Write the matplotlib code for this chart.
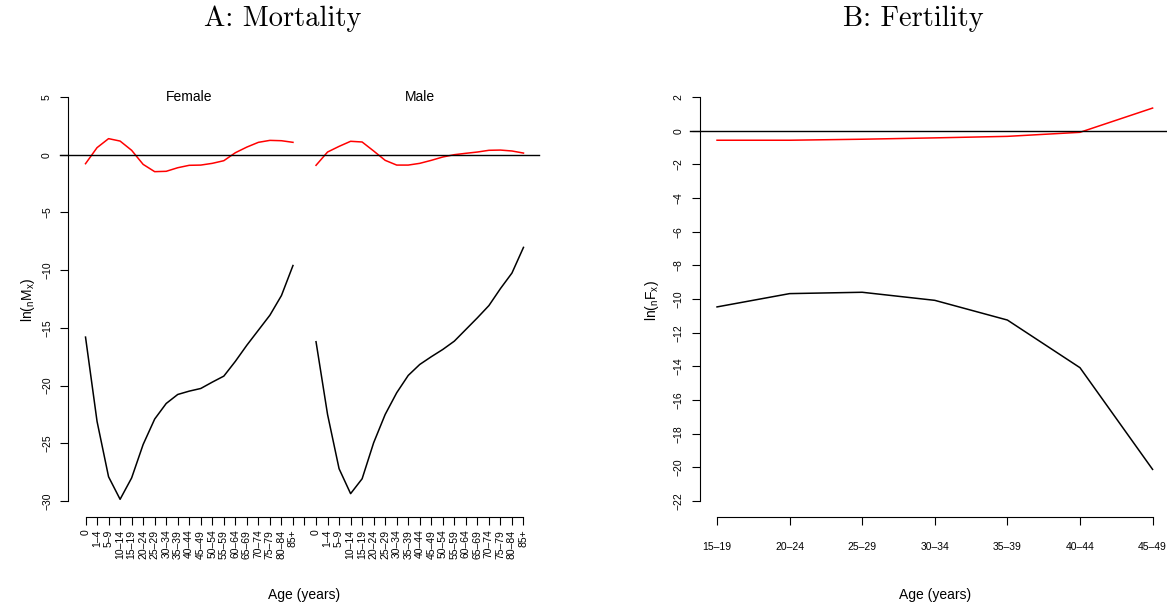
import matplotlib
matplotlib.use("Agg")
import matplotlib.pyplot as plt
import numpy as np

plt.rcParams['font.family'] = ['Liberation Sans', 'DejaVu Sans']
plt.rcParams['mathtext.fontset'] = 'custom'
plt.rcParams['mathtext.rm'] = 'Liberation Sans'
plt.rcParams['mathtext.it'] = 'Liberation Sans'

# ---- data ----
age_mort = ['0', '1–4', '5–9', '10–14', '15–19', '20–24', '25–29', '30–34',
            '35–39', '40–44', '45–49', '50–54', '55–59', '60–64', '65–69',
            '70–74', '75–79', '80–84', '85+']
female_ln = [-15.8, -23.1, -27.9, -29.85, -28.0, -25.1, -22.9, -21.55, -20.77,
             -20.48, -20.25, -19.7, -19.18, -17.9, -16.5, -15.2, -13.9, -12.2, -9.6]
female_red = [-0.78, 0.61, 1.39, 1.18, 0.38, -0.84, -1.47, -1.44, -1.13, -0.92,
              -0.9, -0.75, -0.52, 0.17, 0.66, 1.07, 1.24, 1.21, 1.07]
male_ln = [-16.2, -22.5, -27.2, -29.36, -28.07, -24.95, -22.5, -20.62, -19.12,
           -18.17, -17.5, -16.87, -16.15, -15.14, -14.13, -13.07, -11.6, -10.25, -8.03]
male_red = [-0.92, 0.23, 0.72, 1.16, 1.1, 0.32, -0.49, -0.9, -0.9, -0.75,
            -0.49, -0.2, 0.0, 0.12, 0.23, 0.38, 0.4, 0.32, 0.14]

age_fert = ['15–19', '20–24', '25–29', '30–34', '35–39', '40–44', '45–49']
fert_ln = [-10.47, -9.68, -9.6, -10.08, -11.25, -14.08, -20.12]
fert_red = [-0.57, -0.57, -0.51, -0.43, -0.34, -0.1, 1.34]

W, H = 1167, 609
fig = plt.figure(figsize=(W / 100, H / 100), dpi=100)

def px_axes(x0, x1, y0, y1):
    return fig.add_axes([x0 / W, (H - y1) / H, (x1 - x0) / W, (y1 - y0) / H])

def style(ax, xb, yb):
    for s in ['top', 'right']:
        ax.spines[s].set_visible(False)
    ax.spines['left'].set_bounds(*yb)
    ax.spines['bottom'].set_bounds(*xb)
    for s in ['left', 'bottom']:
        ax.spines[s].set_linewidth(0.8)
    ax.tick_params(length=5.5, width=0.8, direction='out')

# ---- A: mortality ----
ax1 = px_axes(68, 541, 80.8, 517.2)
n = len(age_mort)
xf = np.arange(1, n + 1)
xm = np.arange(n + 2, 2 * n + 2)
ax1.plot(xf, female_ln, color='black', lw=1.1)
ax1.plot(xm, male_ln, color='black', lw=1.1)
ax1.plot(xf, female_red, color='red', lw=1.1)
ax1.plot(xm, male_red, color='red', lw=1.1)
ax1.axhline(0, xmin=-8 / 473, xmax=0.996, color='black', lw=1.0, clip_on=False)
ax1.set_xlim(-0.52, 40.52)
ax1.set_ylim(-31.4, 6.4)
style(ax1, (1, 2 * n + 1), (-30, 5))
ax1.set_xticks(np.arange(1, 2 * n + 2))
ax1.set_xticklabels(age_mort + [''] + age_mort, rotation=90, fontsize=7.5)
ax1.tick_params(axis='x', pad=3.5)
ax1.set_yticks(np.arange(-30, 6, 5))
ax1.set_yticklabels([str(v).replace('-', '−') for v in range(-30, 6, 5)], fontsize=7.5)
for lab in ax1.get_yticklabels():
    lab.set_rotation(90)
    lab.set_va('center')
ax1.tick_params(axis='y', pad=6)
ax1.text(10, 5, 'Female', ha='center', va='center', fontsize=10)
ax1.text(30, 5, 'Male', ha='center', va='center', fontsize=10)
fig.text(28 / W, 1 - 300 / H, r'$\mathrm{ln}({}_{\mathrm{n}}\mathrm{M}_{\mathrm{x}})$',
         rotation=90, ha='center', va='center', fontsize=10)
fig.text(304.5 / W, 1 - 595 / H, 'Age (years)', ha='center', va='center', fontsize=10)
fig.text(283 / W, 1 - 19 / H, 'A: Mortality', family='cmr10', fontsize=20.5,
         ha='center', va='center')

# ---- B: fertility ----
ax2 = px_axes(699.6, 1170, 80.8, 517.2)
xr = np.arange(1, len(age_fert) + 1)
ax2.plot(xr, fert_ln, color='black', lw=1.1)
ax2.plot(xr, fert_red, color='red', lw=1.1)
ax2.axhline(0, xmin=-9.6 / 470.4, xmax=1, color='black', lw=1.0, clip_on=False)
ax2.set_xlim(0.76, 7.24)
ax2.set_ylim(-22.96, 2.96)
style(ax2, (1, 7), (-22, 2))
ax2.set_xticks(xr)
ax2.set_xticklabels(age_fert, fontsize=7.5)
ax2.tick_params(axis='x', pad=12)
ax2.set_yticks(np.arange(-22, 3, 2))
ax2.set_yticklabels([str(v).replace('-', '−') for v in range(-22, 3, 2)], fontsize=7.5)
for lab in ax2.get_yticklabels():
    lab.set_rotation(90)
    lab.set_va('center')
ax2.tick_params(axis='y', pad=6)
fig.text(652 / W, 1 - 300 / H, r'$\mathrm{ln}({}_{\mathrm{n}}\mathrm{F}_{\mathrm{x}})$',
         rotation=90, ha='center', va='center', fontsize=10)
fig.text(935 / W, 1 - 595 / H, 'Age (years)', ha='center', va='center', fontsize=10)
fig.text(913 / W, 1 - 19 / H, 'B: Fertility', family='cmr10', fontsize=20.5,
         ha='center', va='center')

fig.savefig('out.png', dpi=100)
